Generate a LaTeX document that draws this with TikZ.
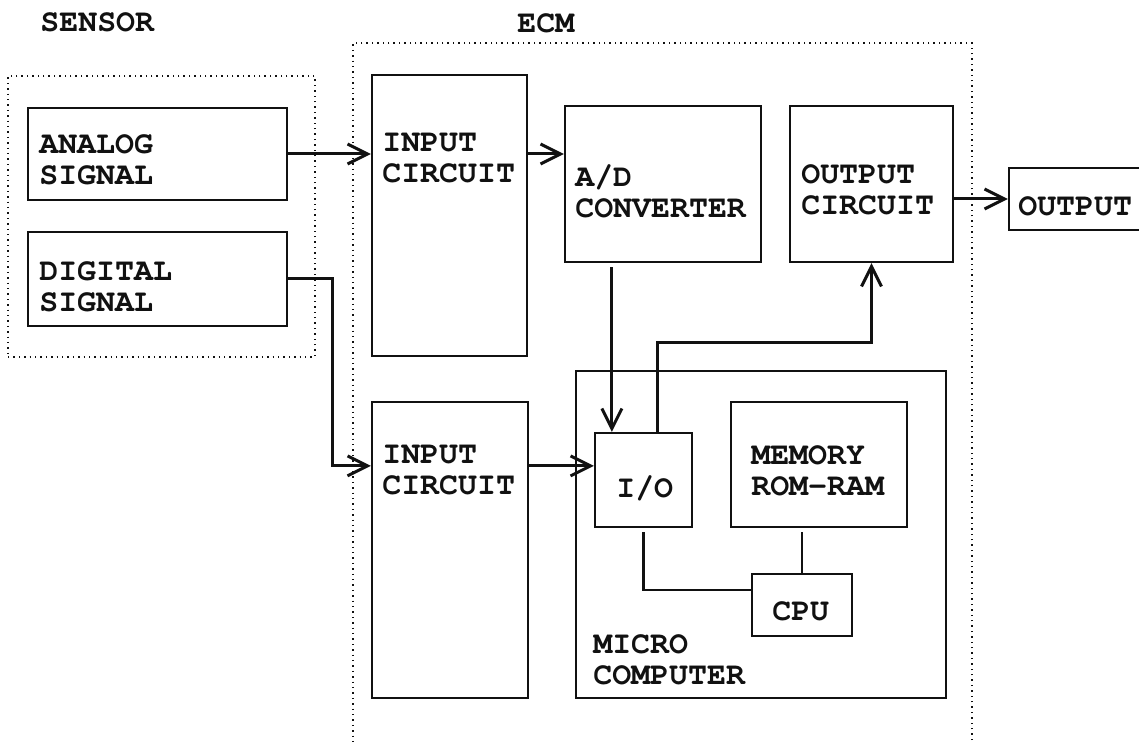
\documentclass[tikz,border=0pt]{standalone}
\usepackage[T1]{fontenc}
\usetikzlibrary{arrows.meta,positioning,fit}
\definecolor{cInk}{HTML}{111111}
\tikzset{
  block/.style={draw=cInk, line width=1.1pt, inner sep=0pt},
  group/.style={draw=cInk, line width=0.7pt, dotted, inner sep=0pt},
  tag/.style={font=\fontencoding{T1}\fontfamily{pcr}\fontseries{b}\fontsize{15.8pt}{15.5pt}\selectfont,
     text=cInk, inner sep=0pt, align=left, anchor=north west},
  flow/.style={-{Straight Barb[length=10pt,width=10pt]}, line width=1.5pt, draw=cInk},
  link/.style={line width=1.1pt, draw=cInk},
}

\begin{document}
\begin{tikzpicture}[x=0.5pt, y=-0.5pt]
  \useasboundingbox (0,0) rectangle (1139,742);
  \clip (0,0) rectangle (1139,742);
  % the two groups (ECM frame runs off the bottom)
  \node[group, fit={(8,76) (315,357)}] (sensor) {};
  \node[group, fit={(353,43) (972,780)}] (ecm) {};
  \node[tag] (sensorT) at (40,12) {SENSOR};
  \node[tag] (ecmT) at (517,13) {ECM};
  % sensor side
  \node[block, fit={(28,108) (287,200)}] (ana) {};
  \node[block, fit={(28,232) (287,326)}] (dig) {};
  \node[tag] (anaT) at ([shift={(12,27)}]ana.north west) {ANALOG\\SIGNAL};
  \node[tag] (digT) at ([shift={(12,30)}]dig.north west) {DIGITAL\\SIGNAL};
  % ECM blocks
  \node[block, fit={(372,75) (527,356)}] (in1) {};
  \node[block, fit={(565,106) (761,262)}] (ad) {};
  \node[block, fit={(790,106) (953,262)}] (outc) {};
  \node[block, fit={(1009,168) (1160,230)}] (out) {};
  \node[block, fit={(372,402) (528,698)}] (in2) {};
  \node[block, fit={(576,371) (946,698)}] (mc) {};
  \node[block, fit={(595,433) (692,527)}] (io) {};
  \node[block, fit={(731,402) (907,527)}] (mem) {};
  \node[block, fit={(752,574) (852,636)}] (cpu) {};
  \node[tag] (in1T) at ([shift={(11,60)}]in1.north west) {INPUT\\CIRCUIT};
  \node[tag] (adT) at ([shift={(11,61)}]ad.north west) {A/D\\CONVERTER};
  \node[tag] (outcT) at ([shift={(12,59)}]outc.north west) {OUTPUT\\CIRCUIT};
  \node[tag] (outT) at ([shift={(10,29)}]out.north west) {OUTPUT};
  \node[tag] (in2T) at ([shift={(11,45)}]in2.north west) {INPUT\\CIRCUIT};
  \node[tag] (ioT) at ([shift={(22,45)}]io.north west) {I/O};
  \node[tag] (memT) at ([shift={(21,44)}]mem.north west) {MEMORY\\ROM-RAM};
  \node[tag] (cpuT) at ([shift={(21,28)}]cpu.north west) {CPU};
  \node[tag] (mcT) at ([shift={(18,264)}]mc.north west) {MICRO\\COMPUTER};
  % helper points on the wires
  \coordinate (dj) at ([shift={(0,65)}]in2.north west);
  \coordinate (ioIn) at ([shift={(18,0)}]io.north west);
  \coordinate (ioOut) at ([shift={(64,0)}]io.north west);
  \coordinate (bus) at ([shift={(0,-27)}]mc.north west);
  % signal paths
  \draw[flow] (ana.east) -- (ana.east -| in1.west);
  \draw[flow] (in1.east |- ana) -- (ad.west |- ana);
  \draw[flow] (dig.east) -- ++(44,0) |- (dj);
  \draw[flow] (in2.east |- dj) -- (io.west |- dj);
  \draw[flow, shorten <=2pt] (ioIn |- ad.south) -- (ioIn);
  \draw[flow] (ioOut) |- (bus -| outc.south) -- (outc.south);
  \draw[flow] (outc.east |- out) -- (out.west);
  % inside the micro computer
  \draw[link, shorten <=2pt] (io.south) |- ([shift={(0,17)}]cpu.north west);
  \draw[link, line width=0.8pt, shorten <=2pt] (cpu.north |- mem.south) -- (cpu.north);
\end{tikzpicture}
\end{document}
